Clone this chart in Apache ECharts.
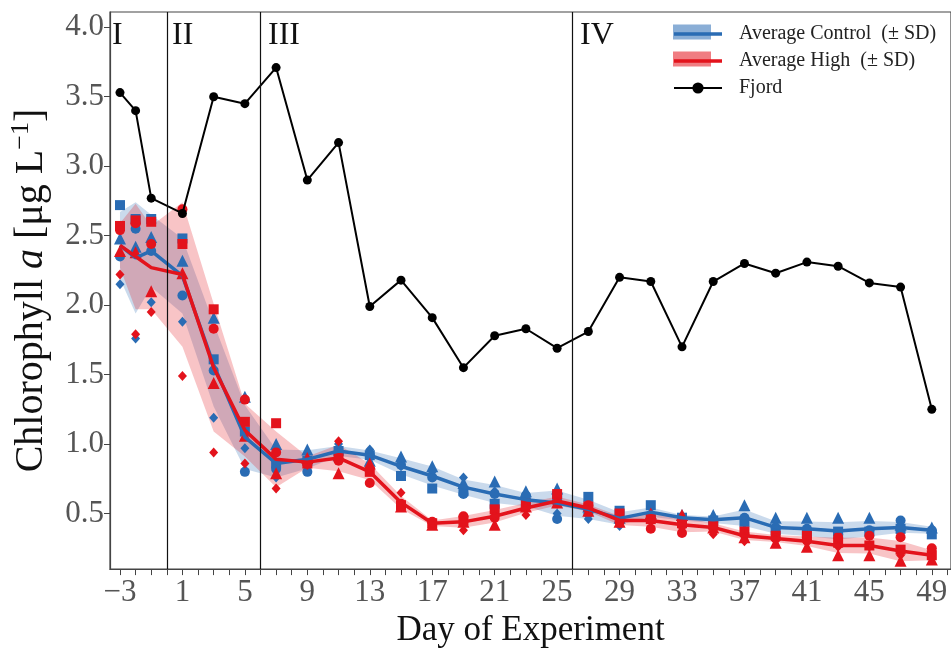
<!DOCTYPE html>
<html>
<head>
<meta charset="utf-8">
<script src="https://cdn.jsdelivr.net/npm/echarts/dist/echarts.min.js"></script>
<style>html,body{margin:0;padding:0;background:#fff}#c{width:951px;height:653px}</style>
</head>
<body>
<div id="c"></div>
<script>
// ---- data ----
const days = [-3,-2,-1,1,3,5,7,9,11,13,15,17,19,21,23,25,27,29,31,33,35,37,39,41,43,45,47,49];
const fjord = [3.53,3.40,2.77,2.66,3.50,3.45,3.71,2.90,3.17,1.99,2.18,1.91,1.55,1.78,1.83,1.69,1.81,2.20,2.17,1.70,2.17,2.30,2.23,2.31,2.28,2.16,2.13,1.25];
const controlMean = [2.43,2.34,2.39,2.21,1.57,1.05,0.86,0.89,0.95,0.92,0.84,0.77,0.69,0.64,0.60,0.575,0.53,0.465,0.51,0.47,0.455,0.47,0.40,0.39,0.375,0.39,0.40,0.38];
const controlSd = [0.24,0.40,0.26,0.27,0.30,0.23,0.10,0.066,0.036,0.033,0.057,0.068,0.055,0.065,0.047,0.091,0.069,0.045,0.034,0.02,0.024,0.059,0.045,0.052,0.062,0.056,0.039,0.025];
const highMean = [2.43,2.35,2.27,2.22,1.55,1.10,0.89,0.87,0.90,0.80,0.58,0.43,0.44,0.48,0.54,0.59,0.54,0.45,0.45,0.42,0.40,0.34,0.32,0.30,0.27,0.27,0.23,0.20];
const highSd = [0.16,0.38,0.30,0.52,0.46,0.19,0.20,0.04,0.095,0.059,0.046,0.02,0.042,0.045,0.035,0.032,0.025,0.032,0.045,0.055,0.03,0.03,0.025,0.034,0.055,0.057,0.073,0.036];
// replicates (square, circle, triangle, diamond)
const ctrlSquare   = [2.72,2.62,2.62,2.48,1.61,1.09,0.86,0.88,0.95,0.92,0.77,0.68,0.66,0.57,0.58,0.62,0.62,0.52,0.56,0.47,0.45,0.44,0.38,0.36,0.37,0.37,0.39,0.35];
const ctrlCircle   = [2.35,2.55,2.39,2.07,1.53,0.80,0.82,0.80,0.93,0.92,0.85,0.76,0.64,0.64,0.63,0.46,0.50,0.46,0.49,0.46,0.44,0.47,0.40,0.39,0.35,0.38,0.45,0.38];
const ctrlTriangle = [2.48,2.42,2.49,2.32,1.91,1.34,1.00,0.96,0.92,0.88,0.91,0.84,0.72,0.73,0.66,0.68,0.55,0.47,0.50,0.49,0.49,0.56,0.47,0.47,0.47,0.47,0.42,0.40];
const ctrlDiamond  = [2.15,1.76,2.02,1.88,1.19,0.97,0.76,0.90,1.00,0.96,0.84,0.80,0.76,0.66,0.55,0.50,0.46,0.41,0.49,0.45,0.44,0.43,0.37,0.36,0.33,0.34,0.36,0.36];
const highSquare   = [2.57,2.61,2.60,2.44,1.97,1.16,1.15,0.86,0.91,0.80,0.56,0.43,0.45,0.53,0.57,0.64,0.55,0.50,0.46,0.43,0.42,0.37,0.34,0.34,0.29,0.27,0.24,0.20];
const highCircle   = [2.54,2.59,2.44,2.69,1.83,1.32,0.94,0.86,0.88,0.72,0.57,0.44,0.48,0.47,0.55,0.58,0.56,0.44,0.39,0.36,0.40,0.35,0.32,0.31,0.33,0.34,0.33,0.25];
const highTriangle = [2.39,2.38,2.10,2.23,1.44,1.06,0.79,0.90,0.79,0.86,0.55,0.42,0.44,0.42,0.55,0.58,0.52,0.44,0.50,0.49,0.40,0.33,0.29,0.26,0.20,0.20,0.16,0.17];
const highDiamond  = [2.22,1.79,1.95,1.49,0.94,0.86,0.68,0.85,1.02,0.82,0.65,0.43,0.38,0.48,0.49,0.57,0.52,0.43,0.45,0.40,0.35,0.30,0.31,0.29,0.26,0.26,0.20,0.18];
const phaseDays = [0, 6, 26];
const phaseLabels = ['I','II','III','IV'];
const xTickLabels = [-3,1,5,9,13,17,21,25,29,33,37,41,45,49];
const yTickLabels = [0.5,1.0,1.5,2.0,2.5,3.0,3.5,4.0];
const names = ['Average Control  (\u00b1 SD)', 'Average High  (\u00b1 SD)', 'Fjord'];

// ---- style ----
const BLUE = '#2a6cb4', RED = '#e3131c';
const FONT = 'Liberation Serif';
const BAR_ICON = 'path://M0,0H0.01V14H0Z M0,5.2H48V8.8H0Z';

const pairs = arr => days.map((d, i) => [d, arr[i]]);
const xMinor = []; for (let d = -3; d <= 50; d++) xMinor.push(d);

function band(mean, sd, color) {
  return {
    type: 'custom', z: 1, silent: true, clip: true,
    data: days.map((d, i) => [d, mean[i] - sd[i], mean[i] + sd[i]]),
    encode: { x: 0, y: [1, 2] },
    renderItem: (params, api) => {
      if (params.dataIndex !== 0) return null;
      const up = [], lo = [];
      for (let i = 0; i < days.length; i++) {
        up.push(api.coord([days[i], mean[i] + sd[i]]));
        lo.push(api.coord([days[i], mean[i] - sd[i]]));
      }
      return { type: 'polygon', shape: { points: up.concat(lo.reverse()) }, style: { fill: color } };
    }
  };
}
function marks(arr, symbol, color, size) {
  return { type: 'scatter', data: pairs(arr), symbol, symbolSize: size,
    itemStyle: { color, opacity: 1 }, z: 2, silent: true };
}

const chart = echarts.init(document.getElementById('c'));
chart.setOption({
  animation: false,
  grid: { left: 108, right: 0, top: 12, bottom: 78, show: true, borderColor: '#444', borderWidth: 1.2 },
  xAxis: {
    type: 'value', min: -3.64, max: 50.23,
    splitLine: { show: false },
    axisLine: { show: true, onZero: false, lineStyle: { color: '#444', width: 1.2 } },
    axisTick: { show: true, customValues: xMinor, length: 6, lineStyle: { color: '#444' } },
    axisLabel: { customValues: xTickLabels, fontFamily: FONT, fontSize: 31, color: '#555', margin: 8,
      formatter: v => String(v).replace('-', '\u2212') },
    name: 'Day of Experiment', nameLocation: 'middle', nameGap: 42,
    nameTextStyle: { fontFamily: FONT, fontSize: 35, color: '#111' }
  },
  yAxis: {
    type: 'value', min: 0.10, max: 4.11,
    splitLine: { show: false },
    axisLine: { show: true, onZero: false, lineStyle: { color: '#444', width: 1.2 } },
    axisTick: { show: true, customValues: yTickLabels, length: 6, lineStyle: { color: '#444' } },
    axisLabel: { customValues: yTickLabels, fontFamily: FONT, fontSize: 31, color: '#555', margin: 6,
      formatter: v => v.toFixed(1) },
    name: '{n|Chlorophyll }{i|a}{n| [\u03bcg L}{s|\u22121}{n|]}',
    nameLocation: 'middle', nameGap: 56, nameRotate: 90,
    nameTextStyle: {
      fontFamily: FONT, fontSize: 40, color: '#111',
      rich: {
        n: { fontFamily: FONT, fontSize: 40, color: '#111', lineHeight: 46 },
        i: { fontFamily: FONT, fontSize: 40, fontStyle: 'italic', color: '#111', lineHeight: 46 },
        s: { fontFamily: FONT, fontSize: 26, color: '#111', verticalAlign: 'top', lineHeight: 26 }
      }
    }
  },
  legend: {
    data: [
      { name: names[0], icon: BAR_ICON },
      { name: names[1], icon: BAR_ICON },
      { name: names[2] }
    ],
    orient: 'vertical', left: 668, top: 19, itemWidth: 48, itemHeight: 14, itemGap: 7,
    textStyle: { fontFamily: FONT, fontSize: 20, color: '#222', padding: [0, 0, 0, 12] },
    z: 10
  },
  graphic: [
    { type: 'rect', shape: { x: 673, y: 24.5, width: 38, height: 15 }, style: { fill: 'rgba(42,108,180,0.55)' }, z: 5 },
    { type: 'rect', shape: { x: 673, y: 51.5, width: 38, height: 15 }, style: { fill: 'rgba(227,19,28,0.55)' }, z: 5 },
    { type: 'text', left: 112, top: 20, style: { text: phaseLabels[0], font: '32px "Liberation Serif"', fill: '#111' } },
    { type: 'text', left: 172, top: 20, style: { text: phaseLabels[1], font: '32px "Liberation Serif"', fill: '#111' } },
    { type: 'text', left: 268, top: 20, style: { text: phaseLabels[2], font: '32px "Liberation Serif"', fill: '#111' } },
    { type: 'text', left: 580, top: 20, style: { text: phaseLabels[3], font: '32px "Liberation Serif"', fill: '#111' } }
  ],
  series: [
    band(controlMean, controlSd, 'rgba(42,108,180,0.25)'),
    band(highMean, highSd, 'rgba(227,19,28,0.25)'),
    marks(ctrlSquare, 'rect', BLUE, 10),
    marks(ctrlCircle, 'circle', BLUE, 10),
    marks(ctrlTriangle, 'triangle', BLUE, 12),
    marks(ctrlDiamond, 'diamond', BLUE, [9, 10]),
    marks(highSquare, 'rect', RED, 10),
    marks(highCircle, 'circle', RED, 10),
    marks(highTriangle, 'triangle', RED, 12),
    marks(highDiamond, 'diamond', RED, [9, 10]),
    { name: names[0], type: 'line', data: pairs(controlMean), symbol: 'none', z: 3,
      lineStyle: { color: BLUE, width: 3.5 }, itemStyle: { color: BLUE } },
    { name: names[1], type: 'line', data: pairs(highMean), symbol: 'none', z: 3,
      lineStyle: { color: RED, width: 3.5 }, itemStyle: { color: RED } },
    { name: names[2], type: 'line', data: pairs(fjord), symbol: 'circle', symbolSize: 9, z: 4,
      lineStyle: { color: '#000', width: 2 }, itemStyle: { color: '#000' },
      markLine: { silent: true, symbol: 'none', label: { show: false },
        lineStyle: { color: '#111', width: 1.2, type: 'solid' },
        data: phaseDays.map(d => ({ xAxis: d })) } }
  ]
});
</script>
</body>
</html>
